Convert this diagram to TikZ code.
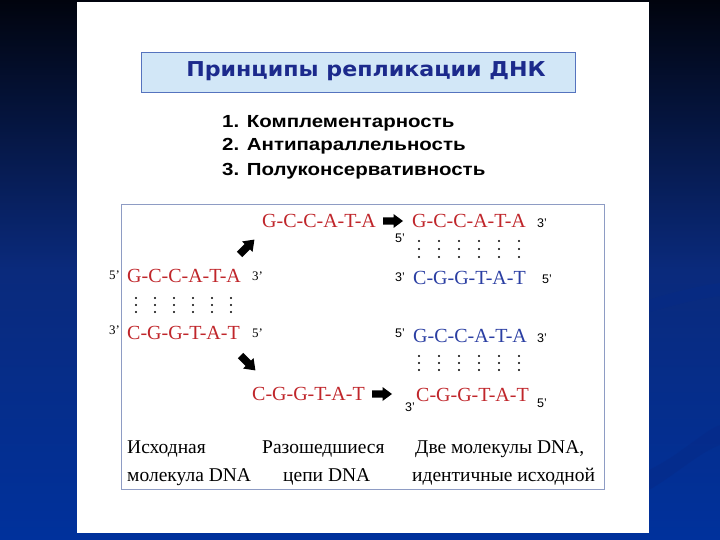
\documentclass[tikz,border=0pt]{standalone}
\usepackage{fontspec}
\setmainfont{Liberation Serif}
\newfontfamily\sansf{Liberation Sans}
\newfontfamily\listf[FakeStretch=1.17]{Liberation Sans}
\newfontfamily\titlef[FakeStretch=1.08]{DejaVu Sans}
\definecolor{dnared}{HTML}{C0262B}
\definecolor{dnablue}{HTML}{2B3FA3}
\definecolor{titleblue}{HTML}{1C2A8C}
\definecolor{titlefill}{HTML}{D2E7F7}
\definecolor{titleborder}{HTML}{5573BE}
\definecolor{bgtop}{HTML}{01040E}
\definecolor{bgmid}{HTML}{0A2A7C}
\definecolor{bgbot}{HTML}{00319C}
\definecolor{bgdark}{HTML}{062A88}
\definecolor{boxline}{HTML}{8E9CC4}
\begin{document}
\begin{tikzpicture}[x=1pt,y=-1pt,
  strand/.style={anchor=base west, inner sep=0pt, font=\fontsize{20}{20}\selectfont},
  redstrand/.style={strand, text=dnared},
  bluestrand/.style={strand, text=dnablue},
  primel/.style={anchor=base west, inner sep=0pt, font=\fontsize{13}{13}\selectfont},
  primer/.style={anchor=base west, inner sep=0pt, font=\sansf\fontsize{12.5}{12.5}\selectfont},
  caption/.style={anchor=base west, inner sep=0pt, font=\fontsize{19.5}{19.5}\selectfont},
  listitem/.style={anchor=base west, inner sep=0pt, font=\listf\bfseries\fontsize{17.5}{17.5}\selectfont},
  blockarrow/.pic={\fill[black] (-10,-3.6) -- (0.5,-3.6) -- (0.5,-7) -- (10,0) -- (0.5,7) -- (0.5,3.6) -- (-10,3.6) -- cycle;},
]
\useasboundingbox (0,0) rectangle (720,540);
% background
\shade[top color=bgtop, bottom color=bgbot, middle color=bgmid] (0,0) rectangle (720,540);
\fill[bgdark, opacity=0.5] (649,470) .. controls (680,455) and (705,430) .. (720,425) -- (720,445) .. controls (700,452) and (675,475) .. (649,490) -- cycle;
\fill[bgdark, opacity=0.4] (649,300) .. controls (680,290) and (705,285) .. (720,283) -- (720,296) .. controls (700,298) and (675,305) .. (649,312) -- cycle;
% white panel
\fill[white] (77,2) rectangle (649,533);
% title
\node[draw=titleborder, line width=0.8pt, fill=titlefill, minimum width=434pt, minimum height=40pt, inner sep=0pt] (titlebox) at (358.5,72.5) {};
\node[anchor=base, inner sep=0pt, text=titleblue, font=\titlef\bfseries\fontsize{20.5}{20.5}\selectfont] (title) at (366,77) {Принципы репликации ДНК};
% list
\node[listitem] (l1) at (222,128) {1. Комплементарность};
\node[listitem] (l2) at (222,151) {2. Антипараллельность};
\node[listitem] (l3) at (222,176) {3. Полуконсервативность};
% diagram frame
\draw[boxline, line width=0.7pt] (121.5,204) rectangle (604,489);
% original molecule
\node[redstrand] (o1) at (127,282) {G-C-C-A-T-A};
\node[redstrand] (o2) at (127,339) {C-G-G-T-A-T};
\node[primel] (o1l) at (109,279) {5’};
\node[primel] (o1r) at (252,280) {3’};
\node[primel] (o2l) at (109,334) {3’};
\node[primel] (o2r) at (252,337) {5’};
\foreach \x in {136,155,174,193,212,231} \foreach \y in {298,305,312} \fill (\x,\y) circle (1.05);
% separated strands
\coordinate (a1) at (247,247);
\coordinate (a2) at (248,363);
\coordinate (a3) at (393,221);
\coordinate (a4) at (382,394);
\pic[rotate=45, scale=1.05] at (a1) {blockarrow};
\pic[rotate=-45, scale=1.05] at (a2) {blockarrow};
\pic at (a3) {blockarrow};
\pic at (a4) {blockarrow};
\node[redstrand] (s1) at (262,227) {G-C-C-A-T-A};
\node[redstrand] (s2) at (252,400) {C-G-G-T-A-T};
% daughter molecule 1
\node[redstrand] (d1) at (412,228) {G-C-C-A-T-A};
\node[bluestrand] (d2) at (413,284) {C-G-G-T-A-T};
\node[primer] (d1r) at (537,228) {3’};
\node[primer] (d1l) at (395,242) {5’};
\node[primer] (d2l) at (395,281) {3’};
\node[primer] (d2r) at (542,283) {5’};
\foreach \x in {419,439,459,479,499,519} \foreach \y in {241,249,257} \fill (\x,\y) circle (1.05);
% daughter molecule 2
\node[bluestrand] (e1) at (413,342) {G-C-C-A-T-A};
\node[redstrand] (e2) at (416,401) {C-G-G-T-A-T};
\node[primer] (e1l) at (395,337) {5’};
\node[primer] (e1r) at (537,342) {3’};
\node[primer] (e2l) at (405,411) {3’};
\node[primer] (e2r) at (537,407) {5’};
\foreach \x in {419,439,459,479,499,519} \foreach \y in {356,363,370} \fill (\x,\y) circle (1.05);
% captions
\node[caption] (c1) at (127,453) {Исходная};
\node[caption] (c2) at (127,481) {молекула DNA};
\node[caption] (c3) at (262,453) {Разошедшиеся};
\node[caption] (c4) at (283,481) {цепи DNA};
\node[caption] (c5) at (415,453) {Две молекулы DNA,};
\node[caption] (c6) at (412,481) {идентичные исходной};
\end{tikzpicture}
\end{document}
